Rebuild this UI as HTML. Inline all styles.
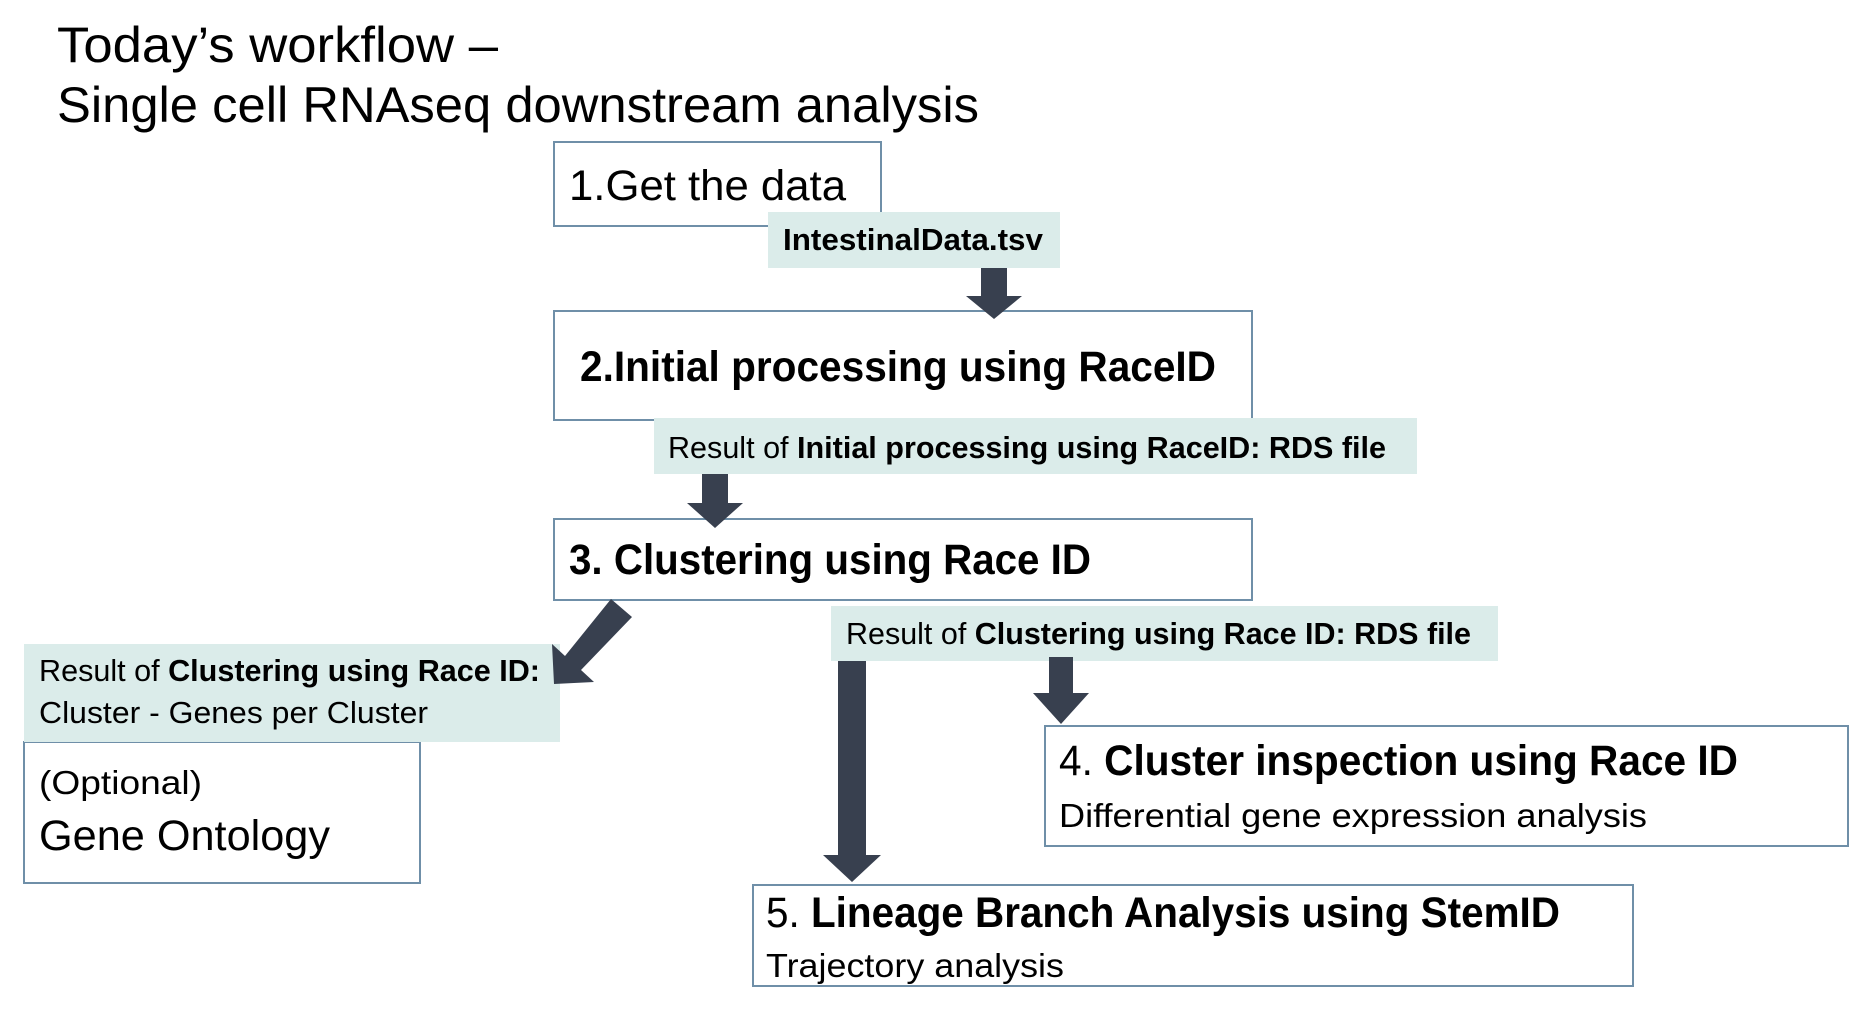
<!DOCTYPE html>
<html><head><meta charset="utf-8"><style>
html,body{margin:0;padding:0;background:#fff;}
svg{display:block;}
text{font-family:"Liberation Sans",sans-serif;fill:#000;}
.b{font-weight:bold;}
</style></head><body>
<svg width="1868" height="1012" viewBox="0 0 1868 1012" xmlns="http://www.w3.org/2000/svg">
<g stroke="#6f8fa8" stroke-width="2" fill="#fff">
<rect x="554" y="142" width="327" height="84"/>
<rect x="554" y="311" width="698" height="109"/>
<rect x="554" y="519" width="698" height="81"/>
<rect x="24" y="742" width="396" height="141"/>
<rect x="1045" y="726" width="803" height="120"/>
<rect x="753" y="885" width="880" height="101"/>
</g>
<g fill="#dbecea">
<rect x="768" y="212" width="292" height="56"/>
<rect x="654" y="418" width="763" height="56"/>
<rect x="831" y="606" width="667" height="55"/>
<rect x="24" y="644" width="536" height="98"/>
</g>
<g fill="#38404f">
<polygon points="981,268 1007,268 1007,296 1022,296 994,319 966,296 981,296"/>
<polygon points="702,474 728,474 728,503 743,503 715,528 687,503 702,503"/>
<polygon points="1049,657 1073,657 1073,693 1089,693 1061,724 1033,693 1049,693"/>
<polygon points="838,661 866,661 866,855 881,855 852,882 823,855 838,855"/>
<polygon points="611,599 632,617 581,670 594,682 554,684 552,644 565,656"/>
</g>
<text x="57" y="62" font-size="50" textLength="441" lengthAdjust="spacingAndGlyphs">Today’s workflow –</text>
<text x="57" y="122" font-size="50" textLength="922" lengthAdjust="spacingAndGlyphs">Single cell RNAseq downstream analysis</text>
<text x="569" y="200" font-size="43" textLength="277" lengthAdjust="spacingAndGlyphs">1.Get the data</text>
<text x="783" y="250" font-size="31" class="b" textLength="260" lengthAdjust="spacingAndGlyphs">IntestinalData.tsv</text>
<text x="580" y="381" font-size="43" class="b" textLength="636" lengthAdjust="spacingAndGlyphs">2.Initial processing using RaceID</text>
<text x="668" y="458" font-size="31" textLength="718" lengthAdjust="spacingAndGlyphs">Result of <tspan class="b">Initial processing using RaceID: RDS file</tspan></text>
<text x="569" y="574" font-size="43" class="b" textLength="522" lengthAdjust="spacingAndGlyphs">3. Clustering using Race ID</text>
<text x="846" y="644" font-size="31" textLength="625" lengthAdjust="spacingAndGlyphs">Result of <tspan class="b">Clustering using Race ID: RDS file</tspan></text>
<text x="39" y="681" font-size="31" textLength="501" lengthAdjust="spacingAndGlyphs">Result of <tspan class="b">Clustering using Race ID:</tspan></text>
<text x="39" y="723" font-size="31" textLength="389" lengthAdjust="spacingAndGlyphs">Cluster - Genes per Cluster</text>
<text x="39" y="794" font-size="33" textLength="163" lengthAdjust="spacingAndGlyphs">(Optional)</text>
<text x="39" y="850" font-size="43" textLength="291" lengthAdjust="spacingAndGlyphs">Gene Ontology</text>
<text x="1059" y="775" font-size="43" textLength="679" lengthAdjust="spacingAndGlyphs">4. <tspan class="b">Cluster inspection using Race ID</tspan></text>
<text x="1059" y="827" font-size="33" textLength="588" lengthAdjust="spacingAndGlyphs">Differential gene expression analysis</text>
<text x="766" y="927" font-size="43" textLength="794" lengthAdjust="spacingAndGlyphs">5. <tspan class="b">Lineage Branch Analysis using StemID</tspan></text>
<text x="766" y="977" font-size="33" textLength="298" lengthAdjust="spacingAndGlyphs">Trajectory analysis</text>
</svg>
</body></html>
